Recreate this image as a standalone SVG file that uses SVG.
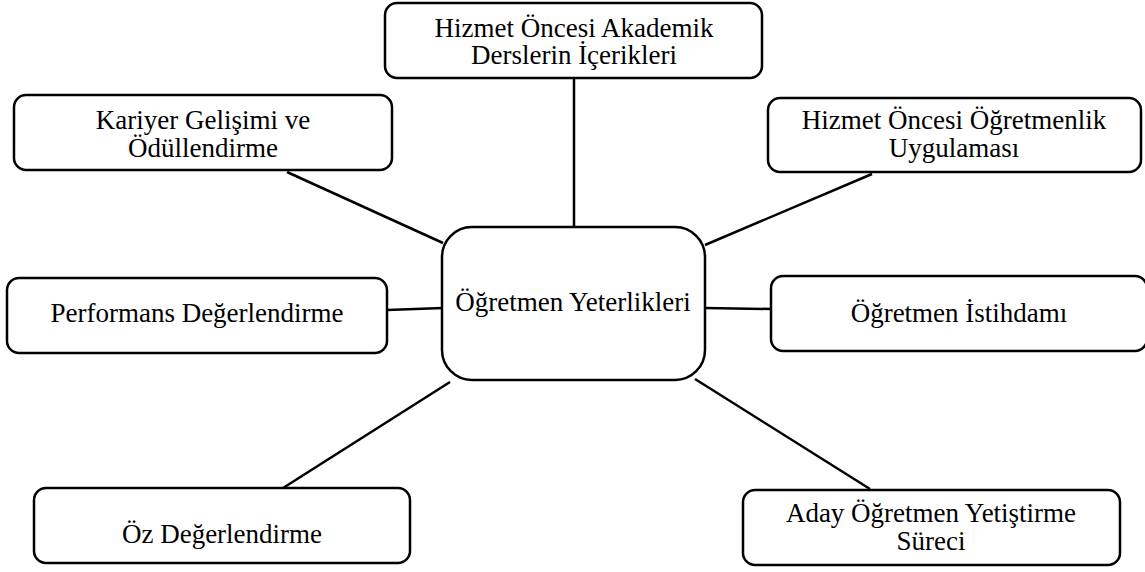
<svg xmlns="http://www.w3.org/2000/svg" width="1145" height="572" viewBox="0 0 1145 572">
<style>
.box{fill:#fff;stroke:#000;stroke-width:2.5}
.t{font-family:"Liberation Serif","Times New Roman",serif;font-size:27px;fill:#000;text-anchor:middle}
.c line{stroke:#000;stroke-width:2.5}
</style>
<rect width="1145" height="572" fill="#fff"/>
<g class="c" id="connectors">
<line x1="574" y1="78" x2="574" y2="228"/>
<line x1="287" y1="172" x2="443" y2="243"/>
<line x1="872" y1="174" x2="705" y2="245"/>
<line x1="387" y1="310" x2="443" y2="308"/>
<line x1="705" y1="308" x2="771" y2="309"/>
<line x1="283" y1="488" x2="450" y2="382"/>
<line x1="695" y1="379" x2="870" y2="489"/>
</g>
<g id="n-center">
<rect class="box" x="442" y="227" width="263" height="153" rx="30"/>
<text class="t" x="573" y="311">Öğretmen Yeterlikleri</text>
</g>
<g id="n-akademik">
<rect class="box" x="385" y="3" width="377" height="75" rx="12"/>
<text class="t" x="574" y="37">Hizmet Öncesi Akademik</text>
<text class="t" x="574" y="64">Derslerin İçerikleri</text>
</g>
<g id="n-kariyer">
<rect class="box" x="14" y="95" width="378" height="75" rx="12"/>
<text class="t" x="203" y="129">Kariyer Gelişimi ve</text>
<text class="t" x="203" y="157">Ödüllendirme</text>
</g>
<g id="n-uygulama">
<rect class="box" x="768" y="98" width="373" height="74" rx="12"/>
<text class="t" x="954" y="129">Hizmet Öncesi Öğretmenlik</text>
<text class="t" x="954" y="157">Uygulaması</text>
</g>
<g id="n-performans">
<rect class="box" x="7" y="278" width="380" height="75" rx="12"/>
<text class="t" x="197" y="322">Performans Değerlendirme</text>
</g>
<g id="n-istihdam">
<rect class="box" x="771" y="276" width="376" height="75" rx="12"/>
<text class="t" x="959" y="322">Öğretmen İstihdamı</text>
</g>
<g id="n-oz">
<rect class="box" x="34" y="488" width="376" height="75" rx="12"/>
<text class="t" x="222" y="543">Öz Değerlendirme</text>
</g>
<g id="n-aday">
<rect class="box" x="743" y="490" width="377" height="75" rx="12"/>
<text class="t" x="931" y="522">Aday Öğretmen Yetiştirme</text>
<text class="t" x="931" y="550">Süreci</text>
</g>
</svg>
